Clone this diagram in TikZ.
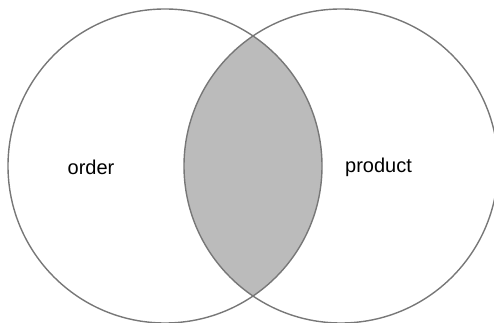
\documentclass[tikz,border=0pt]{standalone}
\usepackage{fontspec}
\setmainfont{Liberation Sans}
\usepackage{xcolor}
\definecolor{setgray}{HTML}{777777}
\definecolor{meetgray}{HTML}{BBBBBB}

\begin{document}
\begin{tikzpicture}[x=1pt,y=1pt,
  setline/.style={draw=setgray,line width=1.4pt},
  setlabel/.style={anchor=base,font=\fontsize{20}{24}\selectfont}]
\useasboundingbox (0,0) rectangle (494,323);

\coordinate (cOrder) at (165,157);
\coordinate (cProduct) at (341,157);

% intersection
\begin{scope}
  \clip (cOrder) circle (157);
  \fill[meetgray] (cProduct) circle (157);
\end{scope}

% sets
\draw[setline] (cOrder) circle (157);
\draw[setline] (cProduct) circle (157);

\node[setlabel] (order) at (91,148) {order};
\node[setlabel] (product) at (378.5,150) {product};
\end{tikzpicture}
\end{document}
